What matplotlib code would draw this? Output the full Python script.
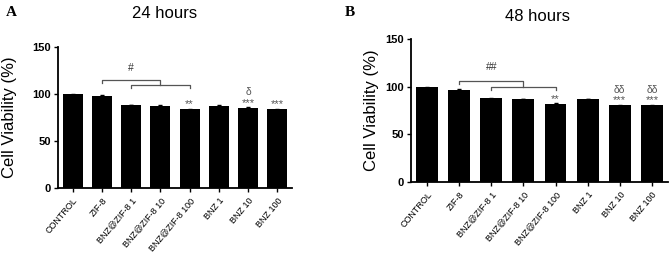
import matplotlib
matplotlib.use("Agg")
import matplotlib.pyplot as plt

plt.rcParams['font.family'] = ['Liberation Sans', 'DejaVu Sans']

categories = ["CONTROL", "ZIF-8", "BNZ@ZIF-8 1", "BNZ@ZIF-8 10", "BNZ@ZIF-8 100",
              "BNZ 1", "BNZ 10", "BNZ 100"]
values_24h = [99.5, 98.0, 88.3, 87.5, 83.8, 87.5, 85.2, 83.8]
err_24h = [0.5, 0.5, 0.4, 0.4, 0.5, 0.4, 0.5, 0.5]
values_48h = [99.2, 97.0, 88.0, 87.2, 82.0, 87.2, 80.5, 80.5]
err_48h = [0.5, 0.5, 0.4, 0.4, 0.5, 0.4, 0.5, 0.5]
stars_24h = ["", "", "", "", "**", "", "***", "***"]
delta_24h = ["", "", "", "", "", "", "δ", ""]
stars_48h = ["", "", "", "", "**", "", "***", "***"]
delta_48h = ["", "", "", "", "", "", "δδ", "δδ"]
yticks = [0, 50, 100, 150]

fig = plt.figure(figsize=(6.69, 2.73), dpi=100)


def panel(rect, vals, errs, stars, deltas, title, title_xy, hash_sym, up_y, low_y, hash_y,
          letter, letter_xy, ylab_x):
    ax = fig.add_axes(rect)
    x = list(range(len(categories)))
    ax.bar(x, vals, width=0.68, color="black", yerr=errs,
           error_kw=dict(ecolor="black", elinewidth=0.8, capsize=1.5))
    ax.set_xlim(-0.5, len(categories) - 0.5)
    ax.set_ylim(0, 150)
    ax.set_yticks(yticks)
    ax.set_yticklabels([str(t) for t in yticks], fontsize=8, fontweight="bold")
    ax.set_xticks(x)
    ax.set_xticklabels(categories, rotation=50, ha="right", rotation_mode="anchor", fontsize=6.5)
    for s in ["top", "right"]:
        ax.spines[s].set_visible(False)
    for s in ["left", "bottom"]:
        ax.spines[s].set_linewidth(1.3)
    ax.tick_params(axis="both", width=1.0, length=3, pad=2)
    ax.tick_params(axis="x", length=3, pad=3)
    fig.text(ylab_x, rect[1] + rect[3] / 2, "Cell Viability (%)", rotation=90,
             ha="center", va="center", fontsize=12)
    fig.text(title_xy[0], title_xy[1], title, ha="center", va="center", fontsize=12)
    fig.text(letter_xy[0], letter_xy[1], letter, ha="left", va="center", fontsize=11,
             fontweight="bold", family="Liberation Serif")
    # stars and deltas
    for i, v in enumerate(vals):
        if stars[i]:
            ax.text(i, v + 5.5, stars[i], ha="center", va="center", fontsize=8, color="#555555")
        if deltas[i]:
            ax.text(i, v + 16.5, deltas[i], ha="center", va="center", fontsize=7.5, color="#555555")
    # brackets
    bc = "#555555"
    tick = 3.5
    lo_l, lo_r = 2, 4
    lo_mid = (lo_l + lo_r) / 2
    ax.plot([lo_l, lo_l, lo_r, lo_r], [low_y - tick, low_y, low_y, low_y - tick], color=bc, lw=0.9)
    ax.plot([1, 1, lo_mid, lo_mid], [up_y - tick, up_y, up_y, low_y], color=bc, lw=0.9)
    ax.text(1.0 + (lo_mid - 1) / 2, hash_y, hash_sym, ha="center", va="center", fontsize=7.5, color="#333333")
    return ax


panel([0.0867, 0.311, 0.3498, 0.517], values_24h, err_24h, stars_24h, delta_24h,
      "24 hours", (0.2466, 0.949), "#", 115, 109.5, 128, "A", (0.008, 0.955), 0.0145)
panel([0.6143, 0.333, 0.3842, 0.524], values_48h, err_48h, stars_48h, delta_48h,
      "48 hours", (0.803, 0.941), "##", 106, 100, 121, "B", (0.515, 0.955), 0.555)

fig.savefig("out.png", dpi=100)
